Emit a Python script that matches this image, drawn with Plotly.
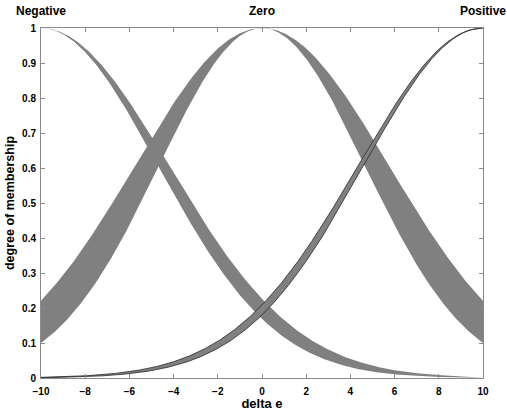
import numpy as np
import plotly.graph_objects as go

# Interval type-2 Gaussian membership functions for "delta e"
labels = ["Negative", "Zero", "Positive"]
centers = [-10.0, 0.0, 10.0]
sigma_lower = [5.30, 4.66, 5.40]   # narrower Gaussian -> lower membership bound
sigma_upper = [5.80, 5.75, 5.65]   # wider Gaussian -> upper membership bound
edge_colors = ["rgba(0,0,0,0)", "rgba(0,0,0,0)", "#2a2a2a"]
edge_widths = [0, 0, 0.8]

x_ticks = list(range(-10, 11, 2))
y_ticks = [round(0.1 * i, 1) for i in range(11)]

x = np.linspace(-10, 10, 801)

def gauss(xv, c, s):
    return np.exp(-((xv - c) ** 2) / (2 * s ** 2))

fig = go.Figure()
for name, c, sl, su, ec, ew in zip(labels, centers, sigma_lower, sigma_upper,
                                   edge_colors, edge_widths):
    upper = gauss(x, c, su)
    lower = gauss(x, c, sl)
    fig.add_trace(go.Scatter(
        x=np.concatenate([x, x[::-1]]),
        y=np.concatenate([upper, lower[::-1]]),
        fill="toself", fillcolor="#808080",
        line=dict(color=ec, width=ew),
        mode="lines", name=name, showlegend=False, hoverinfo="skip",
    ))

font_family = "Liberation Sans, Arial, sans-serif"

for name, c in zip(labels, centers):
    fig.add_annotation(
        x=c, y=1, xref="x", yref="paper", yanchor="bottom", yshift=8,
        text=f"<b>{name}</b>", showarrow=False,
        font=dict(family=font_family, size=12, color="black"),
    )

axis_common = dict(
    showline=True, mirror="ticks", linecolor="#8a8a8a", linewidth=1,
    ticks="inside", ticklen=4, tickcolor="#8a8a8a", tickwidth=1,
    showgrid=False, zeroline=False, automargin=False,
    tickfont=dict(family=font_family, size=10, color="black", weight="bold"),
)

fig.update_layout(
    width=507, height=411,
    margin=dict(l=41, r=24, t=28, b=33),
    plot_bgcolor="white", paper_bgcolor="white",
    font=dict(family=font_family, color="black"),
    xaxis=dict(range=[-10, 10], tickvals=x_ticks, ticklabelstandoff=4,
               **axis_common,
               title=dict(text="<b>delta e</b>", standoff=1,
                          font=dict(family=font_family, size=13))),
    yaxis=dict(range=[0, 1], tickvals=y_ticks,
               ticktext=[("0" if v == 0 else ("1" if v == 1 else f"{v:.1f}")) for v in y_ticks],
               ticklabelstandoff=2,
               **axis_common,
               title=dict(text="<b>degree of membership</b>", standoff=4,
                          font=dict(family=font_family, size=12.5))),
)

fig.write_html("out.html")
